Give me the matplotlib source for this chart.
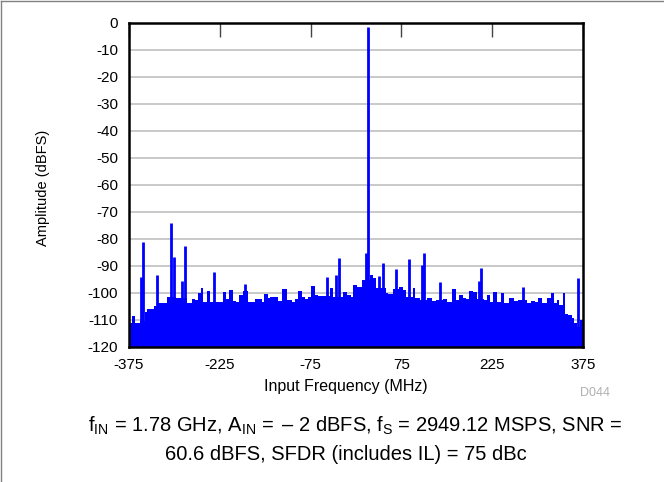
import numpy as np
import matplotlib
matplotlib.use("Agg")
import matplotlib.pyplot as plt
from matplotlib.lines import Line2D

plt.rcParams['font.family'] = ['Liberation Sans', 'DejaVu Sans']
plt.rcParams['mathtext.fontset'] = 'custom'
plt.rcParams['mathtext.rm'] = 'Liberation Sans'
plt.rcParams['mathtext.it'] = 'Liberation Sans'
plt.rcParams['axes.unicode_minus'] = False

# noise floor envelope (MHz, dBFS)
floor_freq = [-375, -372, -370.5, -367.8, -365.6, -359.5, -357, -348.5, -344.7, -337.5,
              -333.7, -328, -318, -312.7, -308.3, -297, -290.7, -278.6, -274, -270.7,
              -266, -260.4, -256, -252, -245.5, -241, -229, -224.6, -219, -214.7,
              -209.2, -203.7, -198, -193.2, -187.2, -179, -172, -166.8, -161.3, -155.8,
              -151.4, -145.9, -142, -133.8, -128.2, -121.6, -114.5, -106.2, -100.7, -95.2,
              -89.7, -84.2, -78.7, -73.7, -67.7, -62, -51, -43, -38.5, -22,
              -15.4, -8.7, -4.4, -1.6, 1, 6.6, 9.4, 13.2, 23.1, 27.5,
              33, 49.6, 53.4, 60.6, 71.6, 77.1, 82.6, 93.6, 97.5, 105.7,
              117.8, 125, 132.2, 144.3, 150.9, 159.2, 165.2, 169.6, 176.2, 181.7,
              187.2, 193.9, 199.4, 212, 217, 221.4, 226.9, 232.4, 239, 244.5,
              253.3, 261, 268.2, 282, 288.6, 295.7, 301.2, 306.7, 315, 321.6,
              327.1, 331.5, 335.9, 341.4, 345.3, 350.8, 356.3, 360.2, 364.6, 370.1,
              372.8, 375]
floor_db = [-111.4, -111.4, -108.6, -108.6, -111.2, -111.2, -110.5, -107.1, -106.2, -106.2,
            -105.0, -103.8, -103.8, -101.5, -101.5, -102.2, -102.2, -103.8, -103.8, -102.4,
            -102.8, -100.3, -98.5, -103.4, -99.4, -103.4, -103.4, -103.4, -99.7, -102.4,
            -99.1, -103.1, -103.4, -100.9, -99.3, -103.4, -103.4, -102.4, -102.4, -103.4,
            -100.5, -102.2, -101.5, -101.8, -103.1, -98.8, -102.8, -103.4, -102.4, -99.3,
            -101.5, -102.4, -101.5, -97.6, -100.9, -101.2, -101.2, -98.5, -101.5, -99.7,
            -100.9, -101.5, -97.2, -97.2, -98.1, -98.1, -95.4, -95.4, -93.5, -94.8,
            -98.5, -100.3, -100.5, -98.8, -98.1, -99.1, -101.5, -98.5, -102.2, -102.8,
            -102.2, -103.0, -102.8, -102.5, -103.4, -98.8, -102.8, -100.9, -102.2, -102.5,
            -99.3, -99.7, -102.5, -102.8, -100.9, -103.4, -99.7, -103.4, -100.1, -104.0,
            -102.2, -103.0, -102.8, -103.8, -103.0, -103.4, -101.9, -104.0, -102.2, -100.3,
            -104.0, -102.8, -104.6, -100.1, -108.0, -108.3, -109.6, -111.2, -112.7, -110.0,
            -110.2, -110.2]

# spurs and fundamental (MHz, dBFS)
spur_freq = [-355.7, -352.4, -329.0, -305.3, -301.5, -286.8, -281.9, -234.5, -183.3, -47.3,
             -33.0, -27.5, 16.5, 20.0, 38.6, 45.2, 66.1, 87.0, 109.0, 112.9,
             138.8, 202.7, 206.5, 276.5, 367.3]
spur_db = [-94.1, -81.4, -93.5, -74.4, -87.0, -95.7, -82.8, -92.3, -96.9, -94.4,
           -93.5, -87.1, -85.5, -1.5, -93.9, -88.9, -91.4, -87.7, -89.8, -85.5,
           -96.0, -95.7, -90.8, -97.8, -94.8]

x_ticks = [-375, -225, -75, 75, 225, 375]
y_ticks = list(range(-120, 1, 10))

fig = plt.figure(figsize=(6.64, 4.82), dpi=100)
ax = fig.add_axes([0.1943, 0.2811, 0.6837, 0.6722])

ax.fill_between(floor_freq, -120, floor_db, step='post', color='#0000ff', lw=0, zorder=2)
ax.vlines(spur_freq, -120, spur_db, color='#0000ff', lw=2.0, zorder=3)

ax.set_xlim(-375, 375)
ax.set_ylim(-120, 0)
ax.set_xticks(x_ticks)
ax.set_yticks(y_ticks)
ax.grid(axis='y', color='#c0c0c0', lw=1.2, zorder=1)
ax.set_axisbelow(True)
for s in ax.spines.values():
    s.set_linewidth(1.8)
    s.set_color('black')
    s.set_zorder(5)

ax.tick_params(axis='x', which='both', bottom=False, top=True, direction='in',
               length=10, width=1, color='#444444', labelsize=11, pad=8)
ax.tick_params(axis='y', length=0, labelsize=11, pad=8)

ax.set_xlabel('Input Frequency (MHz)', fontsize=11.5)
ax.xaxis.set_label_coords(0.477, -0.101)
ax.set_ylabel('Amplitude (dBFS)', fontsize=10.5)
ax.yaxis.set_label_coords(-0.175, 0.49)

fig.text(0.896, 0.185, 'D044', fontsize=9, color='#b0b0b0', ha='center', va='center')

line1 = (r'f$_{\mathrm{IN}}$ = 1.78 GHz, A$_{\mathrm{IN}}$ = $\,$– 2 dBFS, '
         r'f$_{\mathrm{S}}$ = 2949.12 MSPS, SNR =')
line2 = '60.6 dBFS, SFDR (includes IL) = 75 dBc'
fig.text(0.535, 0.117, line1, fontsize=14.5, ha='center', va='center')
fig.text(0.521, 0.058, line2, fontsize=14.5, ha='center', va='center')

# frame lines on the left and top edges of the figure
fig.add_artist(Line2D([0.002, 0.002], [0, 0.998], transform=fig.transFigure, color='#808080', lw=1))
fig.add_artist(Line2D([0.002, 1], [0.998, 0.998], transform=fig.transFigure, color='#808080', lw=1))

fig.savefig('out.png', dpi=100)
